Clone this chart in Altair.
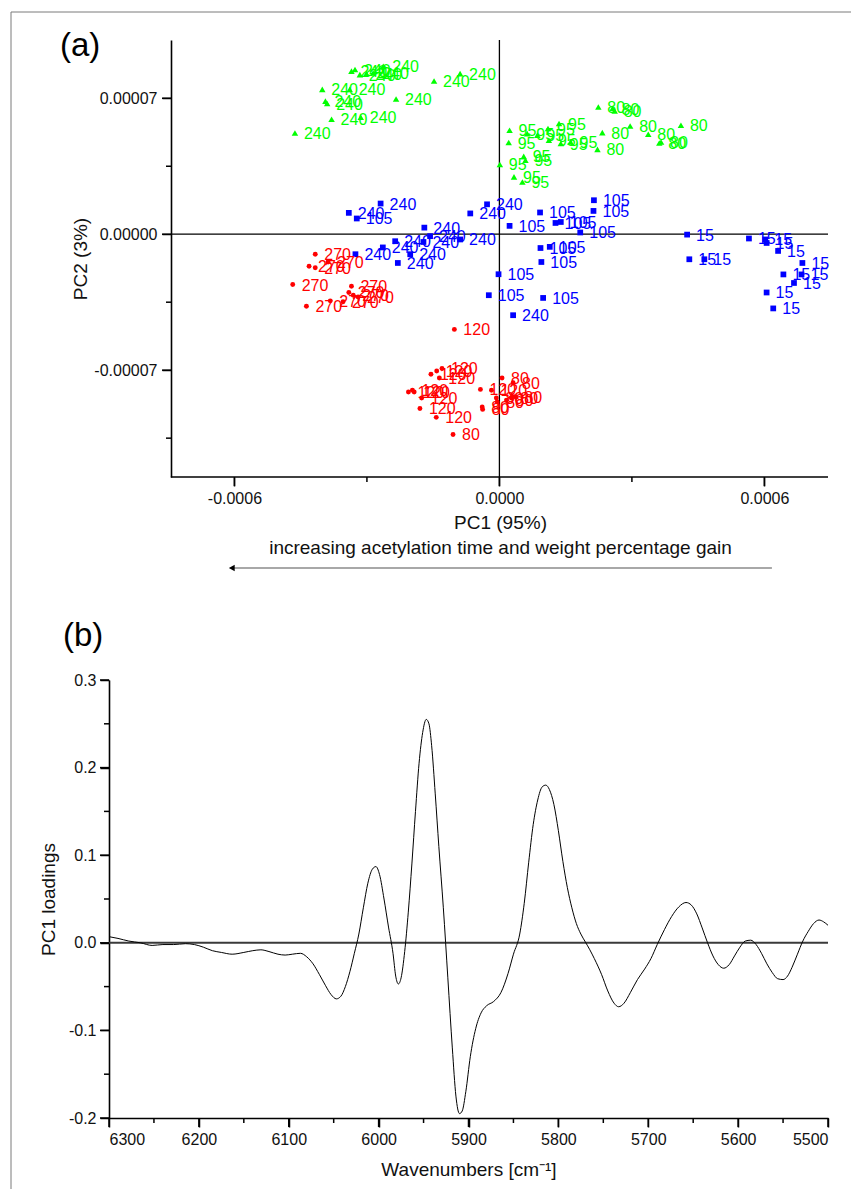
import altair as alt
import pandas as pd

# ---------------- Panel (a): PCA scores ----------------
# green triangles
g240_pc1 = [-4.63e-4, -3.80e-4, -3.14e-4, -3.94e-4, -3.90e-4, -4.01e-4, -3.39e-4, -2.34e-4,
            -1.48e-4, -0.89e-4, -3.35e-4, -3.27e-4, -3.16e-4, -3.01e-4, -2.86e-4, -2.63e-4]
g240_pc2 = [5.21e-5, 5.92e-5, 6.02e-5, 6.85e-5, 6.73e-5, 7.46e-5, 7.46e-5, 6.96e-5,
            7.89e-5, 8.27e-5, 8.40e-5, 8.48e-5, 8.22e-5, 8.27e-5, 8.30e-5, 8.65e-5]
g95_pc1 = [0.01e-4, 0.23e-4, 0.21e-4, 0.33e-4, 0.52e-4, 0.55e-4, 0.59e-4, 0.63e-4,
           0.86e-4, 1.10e-4, 1.12e-4, 1.35e-4, 1.39e-4, 1.61e-4]
g95_pc2 = [3.59e-5, 5.35e-5, 4.72e-5, 2.95e-5, 2.69e-5, 4.01e-5, 3.81e-5, 5.18e-5,
           5.10e-5, 5.44e-5, 4.84e-5, 5.70e-5, 4.67e-5, 4.75e-5]
g80_pc1 = [2.22e-4, 2.33e-4, 2.24e-4, 2.56e-4, 2.61e-4, 2.96e-4, 3.37e-4, 3.62e-4, 3.66e-4, 4.11e-4]
g80_pc2 = [4.37e-5, 5.23e-5, 6.55e-5, 6.47e-5, 6.35e-5, 5.57e-5, 5.15e-5, 4.70e-5, 4.75e-5, 5.61e-5]

# blue squares
b105_pc1 = [2.14e-4, 2.13e-4, 0.92e-4, 0.23e-4, 1.27e-4, 1.39e-4, 1.83e-4, 0.93e-4,
            1.14e-4, 0.95e-4, -0.02e-4, -0.24e-4, 0.99e-4, -3.23e-4]
b105_pc2 = [1.75e-5, 1.20e-5, 1.12e-5, 0.43e-5, 0.58e-5, 0.63e-5, 0.09e-5, -0.71e-5,
            -0.65e-5, -1.43e-5, -2.06e-5, -3.14e-5, -3.28e-5, 0.81e-5]
b240_pc1 = [-3.41e-4, -2.69e-4, -1.70e-4, -1.57e-4, -0.66e-4, -0.28e-4, -0.89e-4, -2.36e-4,
            -1.72e-4, -2.64e-4, -2.02e-4, -3.26e-4, -2.30e-4, 0.31e-4]
b240_pc2 = [1.10e-5, 1.58e-5, 0.34e-5, -0.10e-5, 1.07e-5, 1.54e-5, -0.27e-5, -0.36e-5,
            -0.40e-5, -0.68e-5, -1.03e-5, -1.03e-5, -1.48e-5, -4.17e-5]
b15_pc1 = [4.25e-4, 4.30e-4, 4.64e-4, 5.65e-4, 6.02e-4, 6.05e-4, 6.31e-4, 6.86e-4,
           6.43e-4, 6.84e-4, 6.67e-4, 6.05e-4, 6.20e-4]
b15_pc2 = [-0.02e-5, -1.29e-5, -1.29e-5, -0.22e-5, -0.27e-5, -0.45e-5, -0.86e-5, -1.48e-5,
           -2.07e-5, -2.07e-5, -2.51e-5, -3.00e-5, -3.82e-5]

# red circles
r270_pc1 = [-4.17e-4, -3.88e-4, -4.31e-4, -4.17e-4, -4.68e-4, -3.35e-4, -3.41e-4, -3.31e-4,
            -3.20e-4, -3.54e-4, -3.83e-4, -4.37e-4]
r270_pc2 = [-1.03e-5, -1.43e-5, -1.65e-5, -1.73e-5, -2.59e-5, -2.68e-5, -3.00e-5, -3.14e-5,
            -3.23e-5, -3.48e-5, -3.43e-5, -3.71e-5]
r120_pc1 = [-1.02e-4, -1.55e-4, -1.42e-4, -1.30e-4, -1.36e-4, -2.06e-4, -1.97e-4, -1.93e-4,
            -1.76e-4, -1.80e-4, -1.43e-4, -0.43e-4, -0.18e-4]
r120_pc2 = [-4.90e-5, -7.21e-5, -7.04e-5, -6.91e-5, -7.40e-5, -8.12e-5, -8.03e-5, -8.12e-5,
            -8.43e-5, -8.97e-5, -9.43e-5, -7.99e-5, -8.03e-5]
r80_pc1 = [-0.39e-4, -0.38e-4, -0.07e-4, 0.06e-4, 0.31e-4, 0.16e-4, 0.27e-4, 0.36e-4, -1.05e-4, -0.05e-4]
r80_pc2 = [-8.89e-5, -9.02e-5, -8.43e-5, -7.40e-5, -7.65e-5, -8.54e-5, -8.43e-5, -8.37e-5, -10.31e-5, -8.63e-5]

groups = ["green", "blue", "red"]
group_colors = ["#00ff00", "#0000ff", "#ff0000"]
group_shapes = ["triangle-up", "square", "circle"]
group_sizes = [42, 24, 30]

series = [
    (g240_pc1, g240_pc2, "240", "green"), (g95_pc1, g95_pc2, "95", "green"), (g80_pc1, g80_pc2, "80", "green"),
    (b105_pc1, b105_pc2, "105", "blue"), (b240_pc1, b240_pc2, "240", "blue"), (b15_pc1, b15_pc2, "15", "blue"),
    (r270_pc1, r270_pc2, "270", "red"), (r120_pc1, r120_pc2, "120", "red"), (r80_pc1, r80_pc2, "80", "red"),
]
rows = []
for xs, ys, lab, grp in series:
    for a, b in zip(xs, ys):
        rows.append({"PC1": a, "PC2": b, "label": lab, "group": grp})
scores = pd.DataFrame(rows)

# axis ticks of panel (a)
a_x_major = [-0.0006, 0.0, 0.0006]
a_x_minor = [-0.0003, 0.0003]
a_y_major = [-0.00007, 0.0, 0.00007]
a_y_minor = [-0.000105, -0.000035, 0.000035]
a_x_visible = [-7.44e-4, 7.44e-4]     # extent of the drawn x-axis line
a_y_bottom = -1.25e-4

# ---------------- Panel (b): PC1 loadings ----------------
wavenumber = [6300, 6290, 6278, 6265, 6252, 6240, 6228, 6215, 6205, 6195, 6185, 6175, 6163, 6150, 6140,
              6131, 6122, 6112, 6104, 6096, 6087, 6080, 6073, 6066, 6059, 6053, 6047, 6042, 6037, 6032,
              6027, 6022, 6017, 6012, 6007, 6003, 5999, 5994, 5989, 5984, 5981, 5978, 5975, 5971, 5967,
              5963, 5959, 5955, 5951, 5947, 5944, 5941, 5937, 5933, 5928, 5923, 5918, 5914, 5910, 5907,
              5903, 5898, 5892, 5886, 5880, 5872, 5864, 5856, 5850, 5843, 5838, 5833, 5828, 5823, 5818,
              5814, 5810, 5805, 5800, 5795, 5790, 5785, 5780, 5775, 5770, 5765, 5760, 5752, 5745, 5738,
              5733, 5727, 5720, 5712, 5704, 5697, 5690, 5682, 5674, 5666, 5658, 5652, 5646, 5640, 5634,
              5628, 5622, 5616, 5610, 5604, 5598, 5592, 5586, 5580, 5574, 5568, 5562, 5556, 5550, 5545,
              5540, 5534, 5528, 5522, 5516, 5510, 5505, 5500]
loading = [0.007, 0.005, 0.002, 0.000, -0.003, -0.002, -0.002, -0.001, -0.002, -0.005, -0.009, -0.011,
           -0.013, -0.011, -0.009, -0.008, -0.010, -0.013, -0.014, -0.013, -0.012, -0.016, -0.024, -0.036,
           -0.049, -0.059, -0.064, -0.061, -0.050, -0.033, -0.012, 0.010, 0.040, 0.068, 0.084, 0.087,
           0.078, 0.050, 0.018, -0.012, -0.038, -0.047, -0.040, -0.010, 0.035, 0.090, 0.150, 0.205,
           0.240, 0.255, 0.250, 0.225, 0.170, 0.110, 0.040, -0.040, -0.120, -0.175, -0.195, -0.192,
           -0.170, -0.130, -0.098, -0.080, -0.072, -0.067, -0.057, -0.035, -0.013, 0.010, 0.045, 0.092,
           0.135, 0.163, 0.178, 0.180, 0.175, 0.158, 0.128, 0.093, 0.063, 0.040, 0.022, 0.010, 0.001,
           -0.008, -0.018, -0.036, -0.055, -0.069, -0.073, -0.069, -0.057, -0.042, -0.030, -0.018,
           -0.002, 0.015, 0.030, 0.041, 0.046, 0.043, 0.033, 0.017, 0.000, -0.015, -0.025, -0.029,
           -0.025, -0.015, -0.005, 0.002, 0.003, -0.002, -0.012, -0.024, -0.034, -0.041, -0.042, -0.038,
           -0.028, -0.013, 0.002, 0.013, 0.022, 0.026, 0.024, 0.020]
loadings = pd.DataFrame({"wn": wavenumber, "loading": loading})

b_x_major = [6300, 6200, 6100, 6000, 5900, 5800, 5700, 5600, 5500]
b_x_minor = [6250, 6150, 6050, 5950, 5850, 5750, 5650, 5550]
b_y_major = [-0.2, -0.1, 0.0, 0.1, 0.2, 0.3]
b_y_minor = [-0.15, -0.05, 0.05, 0.15, 0.25]

FONT = "Liberation Sans"
one = pd.DataFrame({"k": [0]})
NEG = "(datum.value < -1e-12 ? '-' : '') + format(abs(datum.value), '{f}')"
MAJOR, MINOR = 9, 5


def tick_rules(values, channel, scale, start, length):
    """Tick marks drawn at data positions (through the scale), `length` px outward from `start`."""
    d = pd.DataFrame({"v": values})
    base = alt.Chart(d).mark_rule(color="black", strokeWidth=1.5)
    if channel == "y":   # ticks on a left axis located at pixel x=start
        return base.encode(y=alt.Y("v:Q", scale=scale, axis=None),
                           x=alt.value(start - length), x2=alt.value(start))
    return base.encode(x=alt.X("v:Q", scale=scale, axis=None),
                       y=alt.value(start), y2=alt.value(start + length))


# ---------------- build panel (a) ----------------
W_A, H_A = 719, 437
xs_a = alt.Scale(domain=[-8.84e-4, 7.44e-4], nice=False, zero=False)
ys_a = alt.Scale(domain=[-1.25e-4, 1.0e-4], nice=False, zero=False)
Y_AXIS_PX = 62   # where the y axis sits (x = -7.44e-4)

x_axis_a = alt.Axis(orient="bottom", values=a_x_major, tickSize=MAJOR, labelPadding=4, domain=False,
                    labelExpr=NEG.format(f=".4f"), titleX=391, titlePadding=7, titleLineHeight=25)
y_axis_a = alt.Axis(orient="left", values=a_y_major, tickSize=MAJOR, labelPadding=5, offset=-Y_AXIS_PX,
                    labelExpr=NEG.format(f=".5f"), titlePadding=3)

color_enc = alt.Color("group:N", scale=alt.Scale(domain=groups, range=group_colors), legend=None)

zero_v = alt.Chart(one).mark_rule(color="black", strokeWidth=1.3).encode(x=alt.XDatum(0, axis=None))
zero_h = alt.Chart(one).mark_rule(color="black", strokeWidth=1.3).encode(
    x=alt.XDatum(a_x_visible[0], axis=None), x2=alt.datum(a_x_visible[1]), y=alt.YDatum(0, axis=None))
base_line = alt.Chart(one).mark_rule(color="black", strokeWidth=1.6).encode(
    x=alt.XDatum(a_x_visible[0], axis=None), x2=alt.datum(a_x_visible[1]), y=alt.YDatum(a_y_bottom, axis=None))

ticks_a = [
    tick_rules(a_y_major, "y", ys_a, Y_AXIS_PX, MAJOR),
    tick_rules(a_y_minor, "y", ys_a, Y_AXIS_PX, MINOR),
    tick_rules(a_x_major, "x", xs_a, H_A, MAJOR),
    tick_rules(a_x_minor, "x", xs_a, H_A, MINOR),
]

pts = alt.Chart(scores).mark_point(filled=True, opacity=1).encode(
    x=alt.X("PC1:Q", scale=xs_a, axis=x_axis_a,
            title=["PC1 (95%)", "increasing acetylation time and weight percentage gain"]),
    y=alt.Y("PC2:Q", scale=ys_a, axis=y_axis_a, title="PC2 (3%)"),
    color=color_enc,
    shape=alt.Shape("group:N", scale=alt.Scale(domain=groups, range=group_shapes), legend=None),
    size=alt.Size("group:N", scale=alt.Scale(domain=groups, range=group_sizes), legend=None),
)
labels = alt.Chart(scores).mark_text(align="left", baseline="middle", dx=9, dy=1, fontSize=16, font=FONT).encode(
    x=alt.X("PC1:Q", axis=None), y=alt.Y("PC2:Q", axis=None), text="label:N", color=color_enc
)
arrow = alt.Chart(one).mark_rule(color="#a8a8a8", strokeWidth=2).encode(
    x=alt.XDatum(-6.04e-4, axis=None), x2=alt.datum(6.17e-4), y=alt.value(528))
arrow_head = alt.Chart(one).mark_point(shape="triangle-left", filled=True, color="black", opacity=1, size=45).encode(
    x=alt.XDatum(-6.06e-4, axis=None), y=alt.value(528))
tag_a = alt.Chart(one).mark_text(text="(a)", fontSize=33, font=FONT, align="left", baseline="middle", color="black").encode(
    x=alt.value(-49), y=alt.value(6))
anchor_a = alt.Chart(one).mark_rule(opacity=0, strokeOpacity=0).encode(
    x=alt.value(-101), y=alt.value(-32), y2=alt.value(540))
# thin grey frame of the figure (left and top edges)
frame_left = alt.Chart(one).mark_rule(color="#7a7a7a", strokeWidth=1).encode(
    x=alt.value(-98), y=alt.value(-28), y2=alt.value(1149))
frame_top = alt.Chart(one).mark_rule(color="#7a7a7a", strokeWidth=1).encode(
    x=alt.value(-98), x2=alt.value(742), y=alt.value(-28))

panel_a = alt.layer(frame_left, frame_top, zero_v, zero_h, base_line, *ticks_a, pts, labels, arrow, arrow_head,
                    tag_a, anchor_a).properties(
    width=W_A, height=H_A
).resolve_axis(x="independent", y="independent")

# ---------------- build panel (b) ----------------
W_B, H_B = 719, 438
xs_b = alt.Scale(domain=[5500, 6300], reverse=True, nice=False, zero=False)
ys_b = alt.Scale(domain=[-0.2, 0.3], nice=False, zero=False)

x_axis_b = alt.Axis(orient="bottom", values=b_x_major, tickSize=MAJOR, labelPadding=4, format="d", titlePadding=13)
y_axis_b = alt.Axis(orient="left", values=b_y_major, tickSize=MAJOR, labelPadding=4,
                    labelExpr=NEG.format(f=".1f"), titlePadding=10)

zero_b = alt.Chart(one).mark_rule(color="#3a3a3a", strokeWidth=2).encode(y=alt.YDatum(0, axis=None))
ticks_b = [
    tick_rules(b_y_major, "y", ys_b, 0, MAJOR),
    tick_rules(b_y_minor, "y", ys_b, 0, MINOR),
    tick_rules(b_x_major, "x", xs_b, H_B, MAJOR),
    tick_rules(b_x_minor, "x", xs_b, H_B, MINOR),
]
curve = alt.Chart(loadings).mark_line(color="black", strokeWidth=1, interpolate="monotone").encode(
    x=alt.X("wn:Q", scale=xs_b, axis=x_axis_b, title="Wavenumbers [cm⁻¹]"),
    y=alt.Y("loading:Q", scale=ys_b, axis=y_axis_b, title="PC1 loadings"))
tag_b = alt.Chart(one).mark_text(text="(b)", fontSize=33, font=FONT, align="left", baseline="middle", color="black").encode(
    x=alt.value(-46), y=alt.value(-44))
anchor_b = alt.Chart(one).mark_rule(opacity=0, strokeOpacity=0).encode(
    x=alt.value(-101), y=alt.value(-80), y2=alt.value(0))

panel_b = alt.layer(zero_b, *ticks_b, curve, tag_b, anchor_b).properties(
    width=W_B, height=H_B
).resolve_axis(x="independent", y="independent")

# "flush" bounds: panels are stacked by their plot areas only (plot b starts 203 px below plot a)
chart = alt.vconcat(panel_a, panel_b, spacing=203, bounds="flush").properties(
    padding=0, background="white"
).configure_view(stroke=None).configure_axis(
    grid=False,
    domainColor="black", domainWidth=1.6,
    tickColor="black", tickWidth=1.5,
    labelFont=FONT, labelFontSize=16, labelColor="#111",
    titleFont=FONT, titleFontSize=19, titleFontWeight="normal", titleColor="#111",
)

chart.save("out.html", embed_options={"renderer": "svg", "actions": False})
